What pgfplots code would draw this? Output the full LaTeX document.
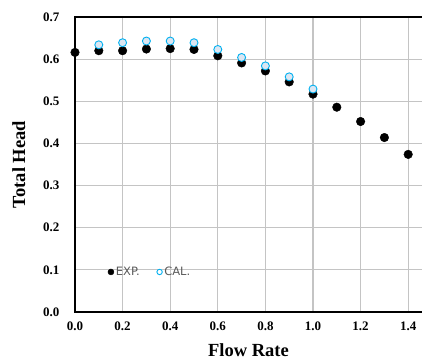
\documentclass[border=0pt]{standalone}
\usepackage{fontspec}
\setmainfont{Liberation Serif}
\newfontfamily\legfont{DejaVu Sans}
\usepackage{pgfplots}
\pgfplotsset{compat=1.18}
\definecolor{calfill}{HTML}{DCE6F2}
\definecolor{caledge}{HTML}{00B0F0}
\definecolor{gridgray}{HTML}{C4C4C4}
\definecolor{leggray}{HTML}{595959}
\begin{document}
\begin{tikzpicture}
\useasboundingbox (-75pt,-49pt) rectangle (347pt,312pt);
\begin{axis}[
  at={(0,0)}, anchor=south west,
  scale only axis, width=347pt, height=295pt,
  xmin=0, xmax=1.458, ymin=0, ymax=0.7,
  xtick={0,0.2,0.4,0.6,0.8,1.0,1.2,1.4}, ytick={0,0.1,0.2,0.3,0.4,0.5,0.6,0.7},
  major tick length=0pt,
  xmajorgrids, ymajorgrids, major grid style={draw=gridgray, line width=1.1pt},
  axis line style={draw=none},
  /pgf/number format/assume math mode=true,
  /pgf/number format/fixed, /pgf/number format/fixed zerofill, /pgf/number format/precision=1,
  tick label style={font=\fontsize{13}{15}\selectfont\bfseries},
  xticklabel style={yshift=-6pt},
  yticklabel style={xshift=-12pt},
  xlabel={Flow Rate}, ylabel={Total Head},
  label style={font=\fontsize{18.5}{20}\selectfont\bfseries},
  xlabel style={yshift=-6pt},
  ylabel style={yshift=11pt},
  legend style={at={(axis cs:0.125,0.095)}, anchor=west, draw=none, fill=none,
    legend columns=2, font=\legfont\fontsize{11.5}{13}\selectfont\color{leggray},
    /tikz/every even column/.append style={column sep=15pt}},
  legend cell align=left,
  clip=false,
]
\draw[black, line width=1.6pt] (rel axis cs:1,1) -- (rel axis cs:0,1) -- (rel axis cs:0,0) -- (rel axis cs:1,0);
\addplot[only marks, mark=*, mark size=4.3pt, black, forget plot] coordinates {
 (0,0.616) (0.1,0.620) (0.2,0.620) (0.3,0.624) (0.4,0.625) (0.5,0.623)
 (0.6,0.608) (0.7,0.591) (0.8,0.572) (0.9,0.546) (1.0,0.517) (1.1,0.486)
 (1.2,0.452) (1.3,0.414) (1.4,0.374)};
\addplot[only marks, mark=*, mark size=4pt, draw=caledge, fill=calfill, line width=0.9pt, forget plot] coordinates {
 (0.1,0.634) (0.2,0.639) (0.3,0.643) (0.4,0.643) (0.5,0.639)
 (0.6,0.623) (0.7,0.604) (0.8,0.584) (0.9,0.558) (1.0,0.529)};
\addlegendimage{only marks, mark=*, mark size=3pt, black}
\addlegendentry{EXP.}
\addlegendimage{only marks, mark=*, mark size=2.7pt, draw=caledge, fill=white, line width=0.9pt}
\addlegendentry{CAL.}
\end{axis}
\end{tikzpicture}
\end{document}
